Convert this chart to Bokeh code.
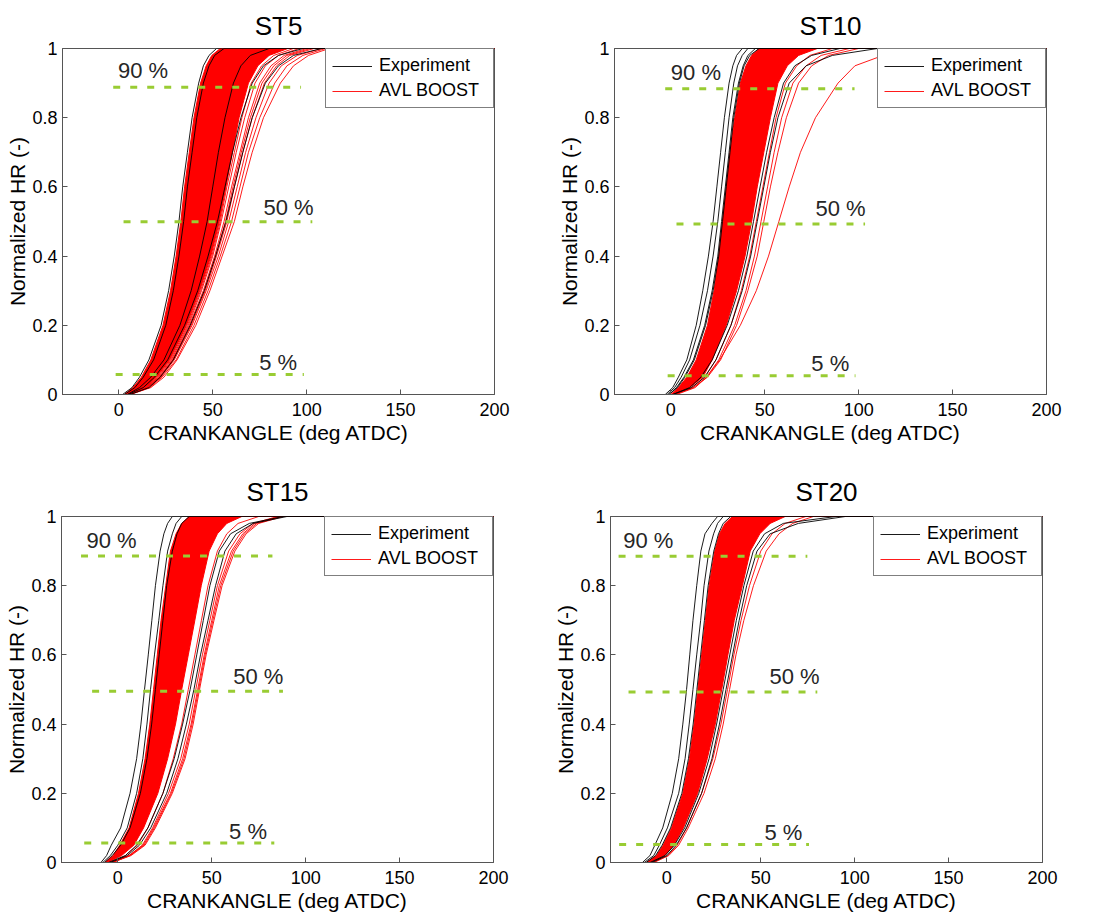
from bokeh.plotting import figure
from bokeh.models import Range1d, FixedTicker, Legend, LegendItem
from bokeh.layouts import column, row
from bokeh.embed import file_html
from bokeh.resources import INLINE
from bokeh.core.properties import value

# ---------------- data ----------------
LEVELS = [0, 0.02, 0.05, 0.1, 0.2, 0.3, 0.4, 0.5, 0.6, 0.7, 0.8, 0.9, 0.95, 0.98, 1.0]
X_TICKS = [0, 50, 100, 150, 200]
Y_TICKS = [0, 0.2, 0.4, 0.6, 0.8, 1.0]
MARK_TEXT = ["90 %", "50 %", "5 %"]

# ST5
ST5_RED_LEFT = [3, 7.5, 12, 17, 23.5, 27.5, 30.5, 33, 35, 37.5, 40, 43.5, 46.5, 49.5, 54]
ST5_RED_RIGHT = [5, 14, 20, 27, 36, 43, 49, 53.5, 57, 60.5, 64, 69, 74, 80, 90]
ST5_RED_THIN = [
    [5, 14.5, 20.5, 27.5, 36.5, 43.5, 49.5, 54, 57.5, 61.5, 65.5, 70.5, 76, 82.5, 93],
    [5, 14.5, 21, 28, 37, 44, 50, 54.5, 58.5, 62.5, 67, 72.5, 78, 85, 96],
    [5, 15, 21.5, 28.5, 37.5, 45, 51, 56, 60, 64.5, 69, 75, 81, 88, 100],
    [5, 15, 21.8, 28.8, 38, 45.5, 51.5, 56.8, 60.8, 65.2, 70, 76.2, 82.5, 89.5, 102],
    [5, 15.5, 22, 29, 38.5, 46, 52, 57.5, 61.5, 66, 71, 77.5, 84, 91, 104],
    [5.5, 16, 22.5, 29.5, 39, 46.5, 53, 58.5, 63, 67.5, 73, 80, 86.5, 95, 108],
    [6, 16.5, 23, 30.5, 40, 47.5, 54, 60, 64.5, 69, 75, 83, 89.5, 98, 110],
    [6, 17, 24, 31, 41, 48.5, 55, 61.5, 66, 71, 77, 86, 93, 101, 112],
]
ST5_EXP = [
    [2, 7, 11, 16, 22.5, 26.5, 29.5, 32, 34, 36.5, 39, 42.5, 45, 48, 52],
    [3, 8.5, 13, 18.5, 25, 29, 32, 34.5, 36.5, 39, 41.5, 45, 48, 51, 56],
    [4.5, 11, 17, 24, 32.5, 38.5, 43, 47, 50, 53, 56.5, 61, 65, 70, 80],
    [5, 13, 19, 26, 35, 42, 47.5, 52.5, 56.5, 60.5, 65, 71, 77, 85, 98],
    [6, 16, 22, 29, 38, 45.5, 51.5, 57, 61.5, 66, 71, 78, 85, 93, 108],
]
ST5_EXP_START = -5
ST5_MARK_LEVEL = [0.888, 0.499, 0.058]
ST5_MARK_X0 = [-3, 2.5, -1.7]
ST5_MARK_X1 = [97, 103, 98.5]
ST5_TEXT_X = [-0.5, 77, 74.7]
ST5_TEXT_Y = [0.936, 0.541, 0.092]

# ST10
ST10_RED_LEFT = [0, 4, 8.5, 13.5, 19.5, 23, 25.5, 27.5, 29.5, 31.5, 34, 37, 40, 43, 47]
ST10_RED_RIGHT = [2, 10, 17, 22, 29.5, 35, 39.5, 43, 46, 49.5, 53, 57, 62, 68, 78]
ST10_RED_THIN = [
    [2, 11, 18, 24, 32, 37.5, 42, 45.5, 49, 52.5, 56, 61, 67, 74, 86],
    [2, 12, 19, 25.5, 34, 40, 44.5, 48, 51.5, 55, 59, 65, 72, 80, 95],
    [2, 12, 19.5, 26.5, 35, 41, 46, 49.5, 53, 57, 61.5, 68, 75, 84, 100],
    [3, 13, 19, 26, 37, 45.5, 52, 57.5, 63, 69, 77, 89, 98, 113, 140],
]
ST10_EXP = [
    [-3, 1, 4, 8.5, 13.5, 17, 20, 22.5, 24.5, 26.5, 28.5, 31, 33, 35, 38],
    [-2, 2, 5.5, 10, 15.5, 19.5, 22.5, 25, 27, 29, 31, 33.5, 35.5, 38, 41],
    [-1, 3, 7, 12, 18, 22, 25, 27, 29, 31, 33, 36, 38.5, 41, 45],
    [-1, 3.5, 7.5, 12.5, 18.5, 22.5, 25.5, 27.5, 29.5, 31.5, 33.5, 36.5, 39, 42, 47],
    [1, 10, 16, 22, 30, 36, 40.5, 44, 47.5, 51, 55, 60, 66, 75, 90],
    [1, 11, 18, 24, 32, 38, 42.5, 46, 49.5, 53, 57, 63, 72, 86, 110],
]
ST10_EXP_START = -10
ST10_MARK_LEVEL = [0.884, 0.493, 0.054]
ST10_MARK_X0 = [-3, 3, -1.7]
ST10_MARK_X1 = [97.8, 103.4, 98.3]
ST10_TEXT_X = [0, 77, 74.8]
ST10_TEXT_Y = [0.932, 0.537, 0.089]

# ST15
ST15_RED_LEFT = [-7, -2.5, 1, 6, 11, 14.5, 17, 19, 21, 23, 25.5, 28, 31, 34, 38]
ST15_RED_RIGHT = [-5, 2, 8.5, 13.7, 21.3, 26.5, 30.7, 34, 37.5, 41, 44.4, 48.6, 53, 58, 66]
ST15_RED_THIN = [
    [-4, 4, 10.5, 16, 24, 29.5, 34, 37.5, 41, 44.5, 48, 53, 58, 64, 75],
    [-3, 6, 13, 18.5, 27, 33.5, 38, 41.5, 45, 49, 53, 59, 65, 72, 85],
    [-3, 6, 13.5, 19, 28, 34.5, 39, 42.5, 46, 50, 54, 60.5, 66.5, 73, 86],
    [-3, 6.5, 14, 19.5, 28.5, 35.2, 39.5, 43, 46.5, 50.6, 54.8, 61.4, 67.4, 74, 87],
    [-3, 7, 14.5, 20, 29, 35.8, 40.1, 43.5, 47, 51.2, 55.5, 62.3, 68.3, 75, 88],
]
ST15_EXP = [
    [-9, -6, -3.5, 1.5, 6.5, 10, 12.3, 14.2, 16.2, 18.1, 20, 22.5, 24.5, 26.5, 29],
    [-8, -4, 0, 5, 10, 13.3, 15.5, 17.4, 19.5, 21.8, 24, 26.5, 29, 31, 34],
    [-7, -3, 1.5, 6.5, 12, 15.5, 18, 20, 22, 24, 26, 29, 31.5, 34, 38],
    [-5, 4, 10, 16, 24, 30, 34.5, 38.5, 42, 45.5, 49, 54, 60, 70, 88],
    [-4, 5, 11.5, 17.5, 26, 32, 36.5, 40.5, 44, 48, 52, 57, 63, 72, 90],
]
ST15_EXP_START = -15
ST15_MARK_LEVEL = [0.886, 0.495, 0.056]
ST15_MARK_X0 = [-19.6, -13.7, -17.9]
ST15_MARK_X1 = [82.3, 87.9, 83.3]
ST15_TEXT_X = [-16.7, 61.4, 59.2]
ST15_TEXT_Y = [0.931, 0.539, 0.089]

# ST20
ST20_RED_LEFT = [-11, -5.5, -2, 2.5, 8.5, 12, 14.5, 16.5, 18.5, 20.5, 22.5, 25.5, 28, 31, 35]
ST20_RED_RIGHT = [-8, -1, 3.7, 8.8, 16.4, 21.5, 25.8, 29.2, 32.5, 35.9, 40.2, 44.4, 49.5, 55, 63]
ST20_RED_THIN = [
    [-7, 0.5, 5.5, 10.5, 18.5, 24.5, 28.8, 32.3, 35.7, 39.5, 44, 50, 56, 63, 74],
    [-7, 1, 6.3, 11.4, 19.8, 25.8, 30, 33.4, 36.8, 41, 46.1, 52.9, 59.7, 67, 78],
]
ST20_EXP = [
    [-13, -9, -6.4, -2.2, 2.9, 6.3, 8.5, 10.5, 12.2, 13.9, 15.9, 18.1, 20.3, 24, 27],
    [-12, -7, -4, 0.3, 6.3, 9.7, 11.9, 13.9, 15.9, 18, 19.8, 22.4, 24.9, 27, 30],
    [-11, -6, -2.5, 2, 8, 11.5, 14, 16, 18, 20, 22, 25, 27.5, 30, 34],
    [-9, -1, 4, 9.5, 17, 22.5, 26.5, 30, 33.5, 37, 41, 46, 52, 62, 90],
    [-8, 0, 5, 10.5, 18.5, 24, 28, 31.5, 35, 38.5, 42.5, 48, 55, 70, 95],
]
ST20_EXP_START = -20
ST20_MARK_LEVEL = [0.885, 0.493, 0.052]
ST20_MARK_X0 = [-25.7, -20.4, -25.4]
ST20_MARK_X1 = [74.8, 80.1, 75.7]
ST20_TEXT_X = [-23.2, 54.6, 52]
ST20_TEXT_Y = [0.930, 0.537, 0.087]

X_MIN, X_MAX = -30, 200

# ---------------- styling ----------------
FONT = "Liberation Sans"
RED = "#ff0000"
GREEN = "#99cc33"
AXC = "#555555"


def style_axis(ax):
    ax.axis_line_color = AXC
    ax.major_tick_line_color = AXC
    ax.minor_tick_line_color = None
    ax.major_tick_in = 5
    ax.major_tick_out = 0
    ax.major_label_text_font = FONT
    ax.major_label_text_color = "#000000"
    ax.major_label_text_font_size = "18px"
    ax.major_label_standoff = 8
    ax.axis_label_text_font = FONT
    ax.axis_label_text_font_size = "21px"
    ax.axis_label_text_font_style = "normal"
    ax.axis_label_text_color = "#000000"


def panel(title, red_left, red_right, red_thin, exp, exp_start,
          mk_lvl, mk_x0, mk_x1, tx, ty, mbl, mbr, mbt, mbb, tstand):
    p = figure(frame_width=432, frame_height=346,
               x_range=Range1d(X_MIN, X_MAX), y_range=Range1d(0, 1),
               output_backend="svg", toolbar_location=None,
               min_border_left=mbl, min_border_right=mbr,
               min_border_top=mbt, min_border_bottom=mbb,
               title=title)
    p.title.align = "center"
    p.title.text_font = FONT
    p.title.text_font_size = "26px"
    p.title.text_font_style = "normal"
    p.title.text_color = "#000000"
    p.title.standoff = tstand
    p.grid.visible = False
    p.outline_line_color = AXC
    p.background_fill_color = "white"
    p.border_fill_color = "white"

    p.xaxis.ticker = FixedTicker(ticks=X_TICKS)
    p.yaxis.ticker = FixedTicker(ticks=Y_TICKS)
    p.yaxis.major_label_overrides = {0: "0", 1: "1"}
    p.xaxis.axis_label = "CRANKANGLE (deg ATDC)"
    p.yaxis.axis_label = "Normalized HR (-)"
    style_axis(p.xaxis[0])
    style_axis(p.yaxis[0])
    p.yaxis.major_label_standoff = 5
    p.xaxis.axis_label_standoff = 2
    p.yaxis.axis_label_standoff = 0

    # dense band of simulated curves
    p.harea(y=LEVELS, x1=red_left, x2=red_right, fill_color=RED, fill_alpha=1.0)
    yl = [0] + LEVELS + [1]
    p.line([X_MIN] + red_left + [X_MAX], yl, line_color=RED, line_width=1)
    p.line([X_MIN] + red_right + [X_MAX], yl, line_color=RED, line_width=1)
    first_red = None
    for c in red_thin:
        r = p.line([X_MIN] + c + [X_MAX], yl, line_color=RED, line_width=0.9)
        if first_red is None:
            first_red = r

    first_exp = None
    for c in exp:
        r = p.line([exp_start] + c + [X_MAX], yl, line_color="#000000", line_width=0.9)
        if first_exp is None:
            first_exp = r

    # reference levels
    p.segment(x0=mk_x0, y0=mk_lvl, x1=mk_x1, y1=mk_lvl, line_color=GREEN,
              line_width=3, line_dash="7 10")
    p.text(x=tx, y=ty, text=MARK_TEXT, text_font=value(FONT),
           text_font_size=value("22px"), text_color="#262626",
           text_align="left", text_baseline="middle")

    legend = Legend(items=[LegendItem(label="Experiment", renderers=[first_exp]),
                           LegendItem(label="AVL BOOST", renderers=[first_red])],
                    location="top_right")
    legend.margin = 0
    legend.padding = 6
    legend.spacing = 4
    legend.glyph_width = 40
    legend.glyph_height = 20
    legend.label_height = 20
    legend.label_width = 108
    legend.label_standoff = 7
    legend.label_text_font = FONT
    legend.label_text_font_size = "18px"
    legend.label_text_color = "#000000"
    legend.border_line_color = "#000000"
    legend.border_line_width = 1
    legend.background_fill_color = "white"
    legend.background_fill_alpha = 1.0
    p.add_layout(legend)
    return p


p1 = panel("ST5", ST5_RED_LEFT, ST5_RED_RIGHT, ST5_RED_THIN, ST5_EXP, ST5_EXP_START,
           ST5_MARK_LEVEL, ST5_MARK_X0, ST5_MARK_X1, ST5_TEXT_X, ST5_TEXT_Y,
           62, 42, 48, 70, 16)
p2 = panel("ST10", ST10_RED_LEFT, ST10_RED_RIGHT, ST10_RED_THIN, ST10_EXP, ST10_EXP_START,
           ST10_MARK_LEVEL, ST10_MARK_X0, ST10_MARK_X1, ST10_TEXT_X, ST10_TEXT_Y,
           78, 20, 48, 70, 16)
p3 = panel("ST15", ST15_RED_LEFT, ST15_RED_RIGHT, ST15_RED_THIN, ST15_EXP, ST15_EXP_START,
           ST15_MARK_LEVEL, ST15_MARK_X0, ST15_MARK_X1, ST15_TEXT_X, ST15_TEXT_Y,
           61, 43, 52, 46, 19)
p4 = panel("ST20", ST20_RED_LEFT, ST20_RED_RIGHT, ST20_RED_THIN, ST20_EXP, ST20_EXP_START,
           ST20_MARK_LEVEL, ST20_MARK_X0, ST20_MARK_X1, ST20_TEXT_X, ST20_TEXT_Y,
           74, 24, 52, 46, 19)

layout = column(row(p1, p2), row(p3, p4))
open("out.html", "w").write(file_html(layout, INLINE))
